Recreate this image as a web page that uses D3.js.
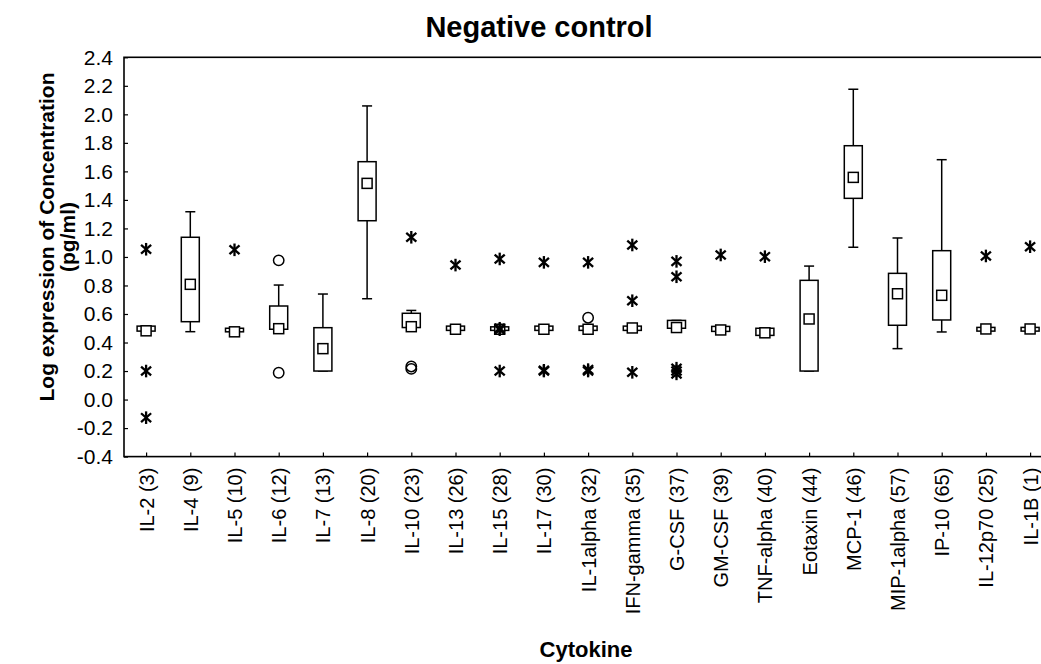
<!DOCTYPE html>
<html><head><meta charset="utf-8">
<script src="https://cdn.jsdelivr.net/npm/d3@7"></script>
<style>
html,body{margin:0;padding:0;background:#fff;overflow:hidden}
text{font-family:"Liberation Sans",Arial,sans-serif;fill:#000}
</style></head>
<body>
<svg id="chart" width="1041" height="664"></svg>
<script>
const title = "Negative control";
const xTitle = "Cytokine";
const yTitle1 = "Log expression of Concentration";
const yTitle2 = "(pg/ml)";
const categories = ["IL-2 (3)","IL-4 (9)","IL-5 (10)","IL-6 (12)","IL-7 (13)","IL-8 (20)","IL-10 (23)","IL-13 (26)","IL-15 (28)","IL-17 (30)","IL-1alpha (32)","IFN-gamma (35)","G-CSF (37)","GM-CSF (39)","TNF-alpha (40)","Eotaxin (44)","MCP-1 (46)","MIP-1alpha (57)","IP-10 (65)","IL-12p70 (25)","IL-1B (1)"];
const medians = [0.482,0.808,0.475,0.497,0.357,1.516,0.511,0.493,0.493,0.493,0.493,0.502,0.505,0.488,0.468,0.565,1.558,0.742,0.731,0.495,0.495];
const q1 =      [0.480,0.546,0.475,0.493,0.200,1.254,0.505,0.485,0.485,0.485,0.485,0.485,0.500,0.478,0.450,0.200,1.411,0.521,0.558,0.480,0.480];
const q3 =      [0.515,1.138,0.500,0.656,0.504,1.668,0.605,0.515,0.510,0.515,0.515,0.515,0.555,0.513,0.500,0.836,1.780,0.885,1.044,0.506,0.506];
const whiskerLow =  [0.480,0.476,0.475,0.493,0.200,0.707,0.500,0.485,0.485,0.485,0.485,0.485,0.500,0.478,0.450,0.200,1.068,0.357,0.474,0.480,0.480];
const whiskerHigh = [0.515,1.317,0.500,0.803,0.740,2.059,0.625,0.515,0.510,0.515,0.515,0.515,0.555,0.513,0.500,0.936,2.176,1.133,1.682,0.506,0.506];
const outliers = [[],[],[],[0.976,0.188],[],[],[0.215,0.232],[],[],[],[0.574],[],[],[],[],[],[],[],[],[],[]];
const extremes = [[1.054,0.200,-0.127],[],[1.050],[],[],[],[1.138],[0.943],[0.986,0.500,0.490,0.200],[0.962,0.200,0.205],[0.962,0.200,0.210],[1.084,0.693,0.191],[0.969,0.861,0.220,0.200,0.180],[1.014],[1.002],[],[],[],[],[1.007],[1.072]];
const yTicks = [-0.4,-0.2,0.0,0.2,0.4,0.6,0.8,1.0,1.2,1.4,1.6,1.8,2.0,2.2,2.4];

const svg = d3.select("#chart");
const L = 124, T = 57.3, B = 456.6, step = 44.2;
const R = L + step * categories.length;
const x = d3.scalePoint().domain(categories).range([L, R]).padding(0.5);
const y = d3.scaleLinear().domain([-0.4, 2.4]).range([B, T]);

// frame
svg.append("rect").attr("x", L).attr("y", T).attr("width", R - L).attr("height", B - T)
  .attr("fill", "none").attr("stroke", "#000").attr("stroke-width", 1.6);

// y axis
const yAxis = d3.axisLeft(y).tickValues(yTicks).tickSize(-4).tickPadding(12).tickFormat(d3.format(".1f"));
const gy = svg.append("g").attr("transform", `translate(${L},0)`).call(yAxis);
gy.select(".domain").remove();
gy.selectAll(".tick line").attr("stroke", "#000").attr("stroke-width", 1.2);
gy.selectAll(".tick text").style("font-size", "21px").attr("fill", "#000").attr("x", -11)
  .text(d => d3.format(".1f")(d).replace("−", "-"));

// x axis
const xAxis = d3.axisBottom(x).tickSize(-4).tickPadding(10);
const gx = svg.append("g").attr("transform", `translate(0,${B})`).call(xAxis);
gx.select(".domain").remove();
gx.selectAll(".tick line").attr("stroke", "#000").attr("stroke-width", 1.2);
gx.selectAll(".tick text").style("font-size", "20px").attr("fill", "#000")
  .attr("transform", "rotate(-90)").attr("text-anchor", "end")
  .attr("x", -11).attr("y", 0).attr("dy", "0.35em");

// boxes
const bw = 18, sq = 10, cap = 10;
const g = svg.append("g").attr("stroke", "#000").attr("stroke-width", 1.5).attr("fill", "none");
categories.forEach((c, i) => {
  const cx = x(c);
  g.append("line").attr("x1", cx).attr("x2", cx).attr("y1", y(q3[i])).attr("y2", y(whiskerHigh[i]));
  g.append("line").attr("x1", cx).attr("x2", cx).attr("y1", y(q1[i])).attr("y2", y(whiskerLow[i]));
  g.append("line").attr("x1", cx - cap/2).attr("x2", cx + cap/2).attr("y1", y(whiskerHigh[i])).attr("y2", y(whiskerHigh[i]));
  g.append("line").attr("x1", cx - cap/2).attr("x2", cx + cap/2).attr("y1", y(whiskerLow[i])).attr("y2", y(whiskerLow[i]));
  g.append("rect").attr("x", cx - bw/2).attr("y", y(q3[i])).attr("width", bw)
    .attr("height", Math.max(y(q1[i]) - y(q3[i]), 1)).attr("fill", "#fff");
  g.append("rect").attr("x", cx - sq/2).attr("y", y(medians[i]) - sq/2).attr("width", sq).attr("height", sq).attr("fill", "#fff");
  outliers[i].forEach(v => {
    g.append("circle").attr("cx", cx).attr("cy", y(v)).attr("r", 5.2).attr("fill", "none");
  });
  extremes[i].forEach(v => {
    const cy = y(v), s = 6.3;
    const a = g.append("g").attr("stroke-width", 2.3);
    a.append("line").attr("x1", cx).attr("x2", cx).attr("y1", cy - s).attr("y2", cy + s);
    a.append("line").attr("x1", cx - s*0.8).attr("x2", cx + s*0.8).attr("y1", cy - s*0.7).attr("y2", cy + s*0.7);
    a.append("line").attr("x1", cx - s*0.8).attr("x2", cx + s*0.8).attr("y1", cy + s*0.7).attr("y2", cy - s*0.7);
  });
});

// titles
svg.append("text").attr("x", 539).attr("y", 37).attr("text-anchor", "middle")
  .style("font-size", "29px").style("font-weight", "bold").text(title);
svg.append("text").attr("x", 586).attr("y", 657).attr("text-anchor", "middle")
  .style("font-size", "22px").style("font-weight", "bold").text(xTitle);
const yt = svg.append("text").attr("transform", "translate(0,237) rotate(-90)").attr("text-anchor", "middle")
  .style("font-size", "21px").style("font-weight", "bold");
yt.append("tspan").attr("x", 0).attr("y", 54).text(yTitle1);
yt.append("tspan").attr("x", 0).attr("y", 75).text(yTitle2);
</script>
</body></html>
